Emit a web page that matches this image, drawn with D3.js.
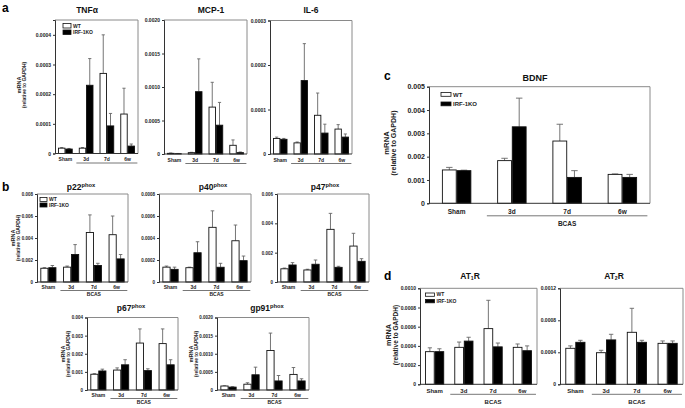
<!DOCTYPE html>
<html><head><meta charset="utf-8">
<script src="https://cdn.jsdelivr.net/npm/d3@7"></script>
<style>html,body{margin:0;padding:0;background:#fff}svg{display:block}text{font-family:"Liberation Sans",Arial,sans-serif}</style>
</head><body>
<svg id="c" width="685" height="408"></svg>
<script>
const groups = ["Sham","3d","7d","6w"];
const series = ["WT","IRF-1KO"];

const tnfWT = [0.000018, 0.000018, 0.00027, 0.000133];
const tnfWTerr = [0.000002, 0.000002, 0.00013, 0.000087];
const tnfKO = [0.000015, 0.00023, 0.000093, 0.000025];
const tnfKOerr = [0.000002, 0.00009, 0.000042, 0.000007];
const tnfTicks = ["0","0.0001","0.0002","0.0003","0.0004"];

const mcpWT = [0.00001, 0.00002, 0.0007, 0.00013];
const mcpWTerr = [0.000005, 0.000005, 0.00037, 0.00008];
const mcpKO = [0.000005, 0.00093, 0.00043, 0.00002];
const mcpKOerr = [0.000003, 0.00049, 0.00034, 0.00001];
const mcpTicks = ["0","0.0005","0.0010","0.0015","0.0020"];

const il6WT = [0.000035, 0.000025, 0.000087, 0.000056];
const il6WTerr = [0.000003, 0.000002, 0.00005, 0.00001];
const il6KO = [0.000033, 0.000165, 0.000047, 0.000038];
const il6KOerr = [0.000002, 0.000083, 0.00002, 0.000007];
const il6Ticks = ["0","0.0001","0.0002","0.0003"];

const p22WT = [0.00125, 0.00135, 0.0045, 0.0043];
const p22WTerr = [0.00005, 0.0001, 0.0016, 0.0017];
const p22KO = [0.0013, 0.0025, 0.0015, 0.0021];
const p22KOerr = [0.0002, 0.0009, 0.0002, 0.0004];
const p22Ticks = ["0","0.002","0.004","0.006","0.008"];

const p40WT = [0.000135, 0.00013, 0.000497, 0.000375];
const p40WTerr = [0.00001, 0.000005, 0.00015, 0.000143];
const p40KO = [0.000115, 0.000266, 0.000134, 0.000194];
const p40KOerr = [0.00002, 0.0001, 0.000036, 0.000042];
const p40Ticks = ["0","0.0002","0.0004","0.0006","0.0008"];

const p47WT = [0.0009, 0.00082, 0.00359, 0.00245];
const p47WTerr = [0.00005, 0.00005, 0.00109, 0.00087];
const p47KO = [0.00116, 0.00121, 0.001, 0.00141];
const p47KOerr = [0.00016, 0.00029, 0.00007, 0.00018];
const p47Ticks = ["0","0.002","0.004","0.006"];

const p67WT = [0.00087, 0.0011, 0.00259, 0.00256];
const p67WTerr = [0.00003, 0.00012, 0.00078, 0.00081];
const p67KO = [0.00105, 0.00139, 0.00107, 0.00139];
const p67KOerr = [0.0001, 0.00028, 0.0001, 0.00028];
const p67Ticks = ["0","0.001","0.002","0.003","0.004"];

const gp91WT = [0.00011, 0.00016, 0.00109, 0.00043];
const gp91WTerr = [0.000005, 0.00004, 0.00048, 0.00019];
const gp91KO = [0.00008, 0.00042, 0.00025, 0.00025];
const gp91KOerr = [0.00001, 0.00021, 0.00015, 0.00006];
const gp91Ticks = ["0","0.0005","0.0010","0.0015","0.0020"];

const bdnfWT = [0.00143, 0.00183, 0.00267, 0.00124];
const bdnfWTerr = [0.00011, 0.0001, 0.00072, 0.00002];
const bdnfKO = [0.0014, 0.00328, 0.00111, 0.00111];
const bdnfKOerr = [0.00002, 0.00123, 0.00029, 0.00013];
const bdnfTicks = ["0","0.001","0.002","0.003","0.004","0.005"];

const at1WT = [0.00034, 0.000385, 0.00058, 0.000385];
const at1WTerr = [0.00004, 0.000055, 0.000295, 0.000035];
const at1KO = [0.00034, 0.00045, 0.00039, 0.00035];
const at1KOerr = [0.00003, 0.00004, 0.00004, 0.00005];
const at1Ticks = ["0","0.0002","0.0004","0.0006","0.0008","0.0010"];

const at2WT = [0.00045, 0.000395, 0.00065, 0.000512];
const at2WTerr = [0.00003, 0.00003, 0.0003, 0.00003];
const at2KO = [0.000525, 0.000555, 0.000525, 0.000512];
const at2KOerr = [0.000025, 0.00007, 0.000025, 0.00003];
const at2Ticks = ["0","0.0004","0.0008","0.0012"];

const svg = d3.select("#c");

const styleA = {tick:5, xl:5, title:8.5, leg:5, yl:5, pi:0.3, xlOff:7.5, ulOff:9.5, bcasOff:null};
const styleB = {tick:4.5, xl:5, title:8.5, leg:5, yl:5, pi:0.3, xlOff:7, ulOff:8.5, bcasOff:14};
const styleC = {tick:7, xl:6.5, title:9, leg:6, yl:7, pi:0.47, xlOff:11, ulOff:12.5, bcasOff:23};
const styleD = {tick:5, xl:6, title:8.5, leg:5, yl:6.5, pi:0.35, xlOff:8.5, ulOff:10, bcasOff:19.5};

function panel(o) {
  const s = o.style;
  const g = svg.append("g");
  const x = d3.scaleBand().domain(groups).range([o.x0, o.x1]).paddingInner(s.pi).paddingOuter(s.pi / 2);
  const xs = d3.scaleBand().domain(series).range([0, x.bandwidth()]);
  const y = d3.scaleLinear().domain([0, o.max]).range([o.y1, o.y0]);
  g.append("path").attr("d", `M${o.x0},${o.y0}H${o.x1}V${o.y1}`).attr("fill","none").attr("stroke","#8a8a8a").attr("stroke-width",1);
  const tv = o.ticks.map(Number);
  const ax = d3.axisLeft(y).tickValues(tv).tickFormat((d,i)=>o.ticks[i]).tickSize(2).tickPadding(2);
  const ag = g.append("g").attr("transform", `translate(${o.x0},0)`).call(ax);
  ag.select(".domain").attr("stroke","#333").attr("stroke-width",1);
  ag.selectAll(".tick line").attr("stroke","#333");
  ag.selectAll("text").attr("font-size", s.tick).attr("font-weight","bold").attr("fill","#222");
  const rows = [];
  groups.forEach((gr,i)=>{
    rows.push({g:gr, s:"WT", v:o.wt[i], e:o.wte[i]});
    rows.push({g:gr, s:"IRF-1KO", v:o.ko[i], e:o.koe[i]});
  });
  const eb = g.append("g");
  rows.forEach(r=>{
    const cx = x(r.g) + xs(r.s) + xs.bandwidth()/2;
    const cap = Math.max(1.5, xs.bandwidth()*0.22);
    eb.append("line").attr("x1",cx).attr("x2",cx).attr("y1",y(r.v)).attr("y2",y(r.v+r.e)).attr("stroke","#666").attr("stroke-width",0.9);
    eb.append("line").attr("x1",cx-cap).attr("x2",cx+cap).attr("y1",y(r.v+r.e)).attr("y2",y(r.v+r.e)).attr("stroke","#666").attr("stroke-width",0.9);
  });
  g.append("g").selectAll("rect").data(rows).join("rect")
    .attr("x", d=>x(d.g)+xs(d.s)+0.4).attr("width", xs.bandwidth()-0.8)
    .attr("y", d=>y(d.v)).attr("height", d=>y(0)-y(d.v))
    .attr("fill", d=>d.s==="WT"?"#fff":"#000").attr("stroke","#111").attr("stroke-width",0.9);
  g.append("line").attr("x1",o.x0).attr("x2",o.x1).attr("y1",o.y1).attr("y2",o.y1).attr("stroke","#333").attr("stroke-width",1);
  groups.forEach(gr=>{
    g.append("text").attr("x", x(gr)+x.bandwidth()/2).attr("y", o.y1+s.xlOff).attr("text-anchor","middle")
      .attr("font-size", s.xl).attr("font-weight","bold").attr("fill","#222").text(gr);
  });
  const ux0 = x("3d") - x.step()*s.pi*0.4, ux1 = x("6w") + x.bandwidth() + x.step()*s.pi*0.4;
  g.append("line").attr("x1",ux0).attr("x2",ux1).attr("y1",o.y1+s.ulOff).attr("y2",o.y1+s.ulOff).attr("stroke","#777").attr("stroke-width",1);
  if (s.bcasOff) g.append("text").attr("x",(ux0+ux1)/2).attr("y",o.y1+s.bcasOff).attr("text-anchor","middle")
      .attr("font-size", s.xl).attr("font-weight","bold").attr("fill","#222").text("BCAS");
  const t = g.append("text").attr("x", o.tx).attr("y", o.ty).attr("text-anchor","middle").attr("font-size", s.title).attr("font-weight","bold").attr("fill","#111");
  if (o.title.sup) { t.append("tspan").text(o.title.main); t.append("tspan").attr("font-size", s.title*0.68).attr("dy", -s.title*0.3).text(o.title.sup); }
  else if (o.title.sub) { t.append("tspan").text(o.title.main); t.append("tspan").attr("font-size", s.title*0.6).attr("dy", s.title*0.15).text(o.title.sub); t.append("tspan").attr("dy", -s.title*0.15).text(o.title.end); }
  else t.text(o.title.main);
  if (o.legend) {
    const lw = o.legend.w, lh = o.legend.h;
    series.forEach((sname,i)=>{
      const ly = o.legend.y + i*o.legend.gap;
      g.append("rect").attr("x",o.legend.x).attr("y",ly).attr("width",lw).attr("height",lh)
        .attr("fill", i===0?"#fff":"#000").attr("stroke","#111").attr("stroke-width",0.8);
      g.append("text").attr("x",o.legend.x+lw+2).attr("y",ly+lh/2).attr("dy","0.35em")
        .attr("font-size", s.leg).attr("font-weight","bold").attr("fill","#222").text(sname);
    });
  }
  if (o.ylab) {
    const yt = g.append("text").attr("transform",`translate(${o.ylab.x},${o.ylab.y}) rotate(-90)`).attr("text-anchor","middle")
      .attr("font-weight","bold").attr("fill","#222");
    yt.append("tspan").attr("x",0).attr("dy",0).attr("font-size", s.yl*1.1).text("mRNA");
    yt.append("tspan").attr("x",0).attr("dy", s.yl*1.05).attr("font-size", s.yl).text("(relative to GAPDH)");
  }
}

panel({style:styleA, x0:55, x1:138, y0:20, y1:153.5, max:0.00045, ticks:tnfTicks, wt:tnfWT, wte:tnfWTerr, ko:tnfKO, koe:tnfKOerr,
  title:{main:"TNFα"}, tx:87, ty:13, legend:{x:63, y:23.5, w:8, h:4.5, gap:6.5}, ylab:{x:21, y:85}});
panel({style:styleA, x0:164, x1:247, y0:20, y1:154, max:0.002, ticks:mcpTicks, wt:mcpWT, wte:mcpWTerr, ko:mcpKO, koe:mcpKOerr,
  title:{main:"MCP-1"}, tx:211, ty:13});
panel({style:styleA, x0:270, x1:352, y0:20.5, y1:154, max:0.0003, ticks:il6Ticks, wt:il6WT, wte:il6WTerr, ko:il6KO, koe:il6KOerr,
  title:{main:"IL-6"}, tx:311, ty:13});

panel({style:styleB, x0:37, x1:128, y0:194, y1:282, max:0.008, ticks:p22Ticks, wt:p22WT, wte:p22WTerr, ko:p22KO, koe:p22KOerr,
  title:{main:"p22", sup:"phox"}, tx:81, ty:190, legend:{x:40, y:197.5, w:7, h:4, gap:5.5}, ylab:{x:15, y:238}});
panel({style:styleB, x0:159, x1:251, y0:194, y1:282, max:0.0008, ticks:p40Ticks, wt:p40WT, wte:p40WTerr, ko:p40KO, koe:p40KOerr,
  title:{main:"p40", sup:"phox"}, tx:213, ty:190});
panel({style:styleB, x0:277, x1:369, y0:194, y1:282, max:0.006, ticks:p47Ticks, wt:p47WT, wte:p47WTerr, ko:p47KO, koe:p47KOerr,
  title:{main:"p47", sup:"phox"}, tx:325, ty:190});
panel({style:styleB, x0:87, x1:178, y0:317.5, y1:390, max:0.004, ticks:p67Ticks, wt:p67WT, wte:p67WTerr, ko:p67KO, koe:p67KOerr,
  title:{main:"p67", sup:"phox"}, tx:131, ty:311, ylab:{x:65, y:354}});
panel({style:styleB, x0:217, x1:309, y0:317.5, y1:390, max:0.002, ticks:gp91Ticks, wt:gp91WT, wte:gp91WTerr, ko:gp91KO, koe:gp91KOerr,
  title:{main:"gp91", sup:"phox"}, tx:267, ty:311, ylab:{x:193, y:354}});

panel({style:styleC, x0:429, x1:650, y0:86.7, y1:203.3, max:0.005, ticks:bdnfTicks, wt:bdnfWT, wte:bdnfWTerr, ko:bdnfKO, koe:bdnfKOerr,
  title:{main:"BDNF"}, tx:535, ty:81, legend:{x:441, y:92.5, w:10, h:3.8, gap:9.5}, ylab:{x:389, y:143}});

panel({style:styleD, x0:420, x1:537, y0:288.3, y1:384.3, max:0.001, ticks:at1Ticks, wt:at1WT, wte:at1WTerr, ko:at1KO, koe:at1KOerr,
  title:{main:"AT", sub:"1", end:"R"}, tx:470, ty:279, legend:{x:425.5, y:293, w:9, h:3.3, gap:6.5}, ylab:{x:391, y:335}});
panel({style:styleD, x0:560, x1:683, y0:288.3, y1:384.3, max:0.0012, ticks:at2Ticks, wt:at2WT, wte:at2WTerr, ko:at2KO, koe:at2KOerr,
  title:{main:"AT", sub:"2", end:"R"}, tx:614, ty:279});

const letters = [["a",2,12],["b",2,191],["c",384,80],["d",384,280]];
letters.forEach(l=>svg.append("text").attr("x",l[1]).attr("y",l[2]).attr("font-size",12).attr("font-weight","bold").attr("fill","#000").text(l[0]));
</script>
</body></html>
